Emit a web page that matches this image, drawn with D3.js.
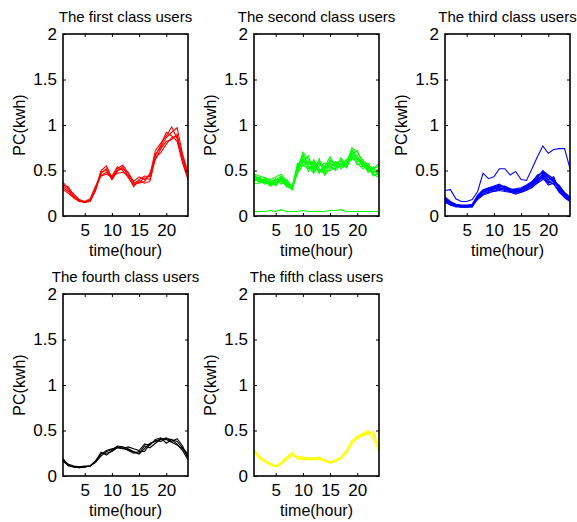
<!DOCTYPE html>
<html>
<head>
<meta charset="utf-8">
<script src="https://cdn.jsdelivr.net/npm/d3@7"></script>
<style>
  body { margin: 0; background: #fff; }
  svg { font-family: "Liberation Sans", Arial, sans-serif; }
</style>
</head>
<body>
<script>
// hours on the x axis
const hours = [1,2,3,4,5,6,7,8,9,10,11,12,13,14,15,16,17,18,19,20,21,22,23,24];
const yTicks = [0, 0.5, 1, 1.5, 2];
const xTicks = [5, 10, 15, 20];
const titles = ["The first class users", "The second class users", "The third class users",
                "The fourth class users", "The fifth class users"];
const colors = ["#ff0000", "#00ff00", "#0000ff", "#000000", "#ffff00"];

// class 1 (red)
const class1 = [
  [.37,.30,.24,.18,.16,.17,.30,.50,.55,.42,.52,.56,.47,.38,.43,.40,.45,.72,.80,.88,.98,.85,.62,.45],
  [.34,.32,.22,.17,.15,.16,.28,.47,.52,.41,.50,.52,.48,.35,.40,.44,.43,.68,.76,.86,.92,.97,.68,.48],
  [.31,.27,.20,.16,.15,.18,.32,.44,.46,.43,.47,.48,.45,.37,.36,.38,.47,.62,.74,.82,.84,.90,.60,.42],
  [.29,.25,.20,.16,.16,.19,.33,.45,.48,.44,.54,.50,.42,.34,.37,.42,.40,.66,.78,.92,.88,.82,.58,.40],
  [.33,.29,.21,.17,.15,.17,.29,.49,.50,.40,.49,.54,.44,.32,.39,.36,.38,.64,.70,.79,.86,.88,.66,.44]
];

// class 2 (green)
const class2 = [
  [.46,.44,.42,.40,.43,.46,.38,.32,.50,.70,.62,.55,.50,.48,.62,.56,.62,.55,.75,.70,.60,.55,.52,.58],
  [.42,.40,.38,.36,.40,.44,.36,.30,.55,.66,.58,.60,.48,.52,.58,.54,.58,.60,.72,.66,.56,.50,.48,.50],
  [.40,.38,.41,.35,.38,.42,.34,.31,.48,.62,.55,.50,.63,.45,.52,.60,.56,.54,.70,.62,.60,.57,.50,.46],
  [.38,.42,.36,.38,.34,.40,.38,.29,.52,.58,.66,.48,.55,.58,.54,.52,.64,.56,.66,.58,.52,.55,.45,.48],
  [.36,.36,.39,.33,.36,.38,.33,.30,.47,.56,.52,.56,.50,.54,.65,.55,.54,.58,.68,.72,.58,.48,.54,.44],
  [.44,.39,.35,.37,.41,.35,.40,.32,.53,.64,.49,.62,.52,.46,.56,.58,.60,.53,.64,.60,.62,.52,.48,.52],
  [.41,.37,.40,.39,.33,.43,.35,.31,.58,.55,.60,.52,.58,.50,.50,.53,.55,.62,.62,.65,.55,.58,.46,.42],
  [.45,.41,.37,.34,.37,.39,.37,.29,.49,.60,.57,.58,.47,.55,.60,.57,.52,.57,.69,.56,.59,.50,.52,.55],
  [.39,.43,.38,.36,.35,.41,.32,.30,.51,.68,.54,.47,.60,.52,.55,.50,.57,.55,.73,.63,.54,.53,.44,.47],
  [.05,.05,.05,.06,.05,.07,.05,.05,.05,.06,.05,.05,.05,.05,.06,.06,.07,.05,.05,.05,.05,.05,.05,.05]
];

// class 3 (blue)
const class3 = [
  [.28,.29,.19,.16,.16,.18,.27,.47,.41,.43,.52,.52,.45,.49,.40,.39,.52,.65,.77,.69,.73,.74,.74,.52],
  [.20,.15,.12,.11,.11,.12,.22,.28,.30,.32,.34,.32,.29,.30,.31,.34,.38,.44,.48,.42,.40,.32,.25,.20],
  [.18,.14,.12,.11,.11,.11,.20,.26,.28,.30,.31,.30,.28,.27,.29,.32,.36,.42,.50,.45,.41,.30,.23,.18],
  [.17,.13,.11,.10,.10,.10,.19,.24,.27,.29,.32,.33,.30,.28,.27,.30,.34,.40,.46,.40,.43,.28,.22,.17],
  [.16,.12,.11,.10,.10,.11,.21,.27,.29,.27,.29,.31,.28,.26,.28,.31,.33,.38,.44,.36,.38,.30,.24,.19],
  [.19,.14,.13,.11,.11,.12,.18,.23,.25,.28,.30,.28,.27,.25,.26,.29,.31,.37,.42,.34,.36,.26,.21,.16],
  [.21,.16,.13,.12,.12,.13,.23,.29,.31,.33,.35,.31,.29,.28,.30,.33,.37,.45,.47,.43,.39,.33,.26,.21],
  [.15,.12,.10,.10,.10,.10,.20,.25,.26,.27,.28,.27,.26,.24,.26,.28,.32,.36,.40,.38,.35,.27,.20,.16],
  [.18,.13,.12,.11,.11,.11,.22,.27,.30,.31,.33,.30,.30,.27,.29,.31,.35,.41,.45,.39,.42,.29,.23,.18],
  [.17,.13,.11,.10,.10,.11,.19,.26,.28,.30,.31,.29,.27,.26,.28,.30,.34,.39,.43,.37,.40,.31,.24,.17],
  [.20,.15,.12,.11,.11,.12,.21,.28,.29,.31,.33,.32,.29,.29,.30,.32,.36,.43,.49,.44,.37,.34,.25,.20]
];

// class 4 (black)
const class4 = [
  [.19,.12,.10,.09,.10,.11,.16,.26,.23,.28,.32,.30,.29,.26,.24,.30,.36,.38,.41,.40,.37,.34,.30,.22],
  [.17,.11,.10,.10,.11,.11,.15,.22,.27,.29,.33,.32,.30,.27,.25,.33,.31,.36,.40,.42,.38,.41,.33,.19],
  [.18,.13,.11,.10,.10,.11,.16,.24,.28,.30,.31,.30,.32,.30,.28,.35,.34,.40,.42,.36,.40,.35,.28,.18],
  [.16,.12,.10,.09,.10,.11,.17,.25,.25,.27,.31,.31,.28,.25,.27,.27,.35,.39,.38,.41,.40,.38,.31,.24]
];

// class 5 (yellow)
const class5 = [
  [.29,.22,.17,.13,.11,.14,.20,.26,.18,.20,.19,.19,.21,.17,.15,.17,.20,.27,.38,.44,.46,.48,.47,.30],
  [.27,.20,.16,.12,.10,.13,.19,.22,.22,.18,.18,.18,.19,.18,.14,.16,.19,.26,.35,.42,.44,.46,.40,.27],
  [.28,.19,.17,.14,.11,.15,.21,.25,.20,.19,.20,.20,.20,.16,.15,.18,.21,.28,.39,.43,.47,.50,.44,.33],
  [.26,.21,.15,.13,.10,.13,.18,.24,.21,.21,.19,.18,.18,.17,.14,.17,.20,.25,.36,.41,.45,.47,.49,.28]
];

const classes = [class1, class2, class3, class4, class5];

const W = 577, H = 522;
const pw = 125, ph = 182;
// panel origins (top-left of plot box)
const origins = [[63, 34], [254, 34], [445, 34], [63, 294], [254, 294]];

const svg = d3.select("body").append("svg")
  .attr("width", W).attr("height", H);

const x = d3.scaleLinear().domain([1, 24]).range([0, pw]);
const y = d3.scaleLinear().domain([0, 2]).range([ph, 0]);

const line = d3.line()
  .x((d, i) => x(hours[i]))
  .y(d => y(d));

classes.forEach((curves, k) => {
  const [ox, oy] = origins[k];
  const g = svg.append("g").attr("transform", `translate(${ox},${oy})`);

  g.selectAll("path.curve")
    .data(curves)
    .enter()
    .append("path")
    .attr("class", "curve")
    .attr("d", line)
    .attr("fill", "none")
    .attr("stroke", colors[k])
    .attr("stroke-width", 1.1);

  // left axis with labels, ticks inside
  const yAxis = d3.axisLeft(y).tickValues(yTicks).tickFormat(d => String(d))
    .tickSizeInner(-3).tickSizeOuter(0).tickPadding(6);
  g.append("g").call(yAxis).call(a => {
    a.select(".domain").remove();
    a.selectAll("text").attr("font-size", 17).attr("fill", "#000");
  });
  // right axis ticks
  g.append("g").attr("transform", `translate(${pw},0)`)
    .call(d3.axisRight(y).tickValues(yTicks).tickFormat("").tickSizeInner(-3).tickSizeOuter(0))
    .call(a => a.select(".domain").remove());

  // bottom axis
  const xAxis = d3.axisBottom(x).tickValues(xTicks)
    .tickSizeInner(-3).tickSizeOuter(0).tickPadding(8);
  g.append("g").attr("transform", `translate(0,${ph})`).call(xAxis).call(a => {
    a.select(".domain").remove();
    a.selectAll("text").attr("font-size", 17).attr("fill", "#000");
  });
  // top axis ticks
  g.append("g")
    .call(d3.axisTop(x).tickValues(xTicks).tickFormat("").tickSizeInner(-3).tickSizeOuter(0))
    .call(a => a.select(".domain").remove());

  g.selectAll(".tick line").attr("stroke", "#000");

  // box
  g.append("rect")
    .attr("width", pw).attr("height", ph)
    .attr("fill", "none").attr("stroke", "#000").attr("stroke-width", 1.6);

  // title
  g.append("text")
    .attr("x", pw / 2).attr("y", -12)
    .attr("text-anchor", "middle")
    .attr("font-size", 15)
    .text(titles[k]);

  // x label
  g.append("text")
    .attr("x", pw / 2).attr("y", ph + 40)
    .attr("text-anchor", "middle")
    .attr("font-size", 16)
    .text("time(hour)");

  // y label
  g.append("text")
    .attr("transform", `translate(-44,${ph / 2}) rotate(-90)`)
    .attr("dy", "0.35em")
    .attr("text-anchor", "middle")
    .attr("font-size", 16)
    .text("PC(kwh)");
});
</script>
</body>
</html>
